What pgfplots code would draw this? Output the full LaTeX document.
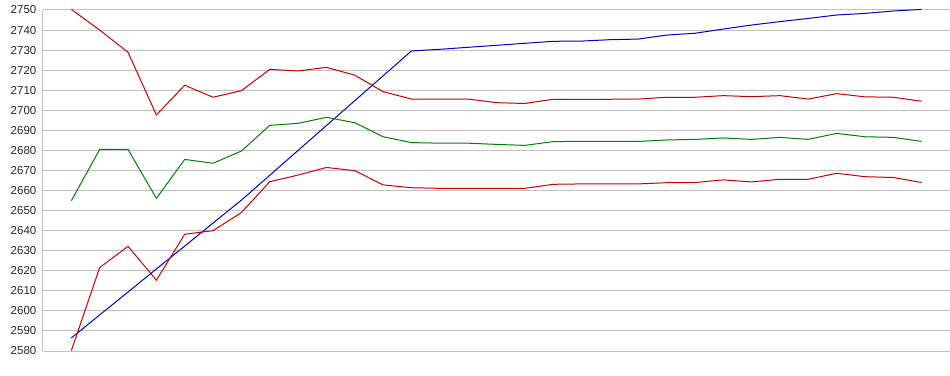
\documentclass[border=0pt]{standalone}
\usepackage{fontspec}
\setmainfont{Liberation Sans}
\usepackage{pgfplots}
\usepackage{pgfplotstable}
\pgfplotsset{compat=1.18}
\definecolor{gridgray}{RGB}{192,192,192}
\definecolor{cblue}{RGB}{0,0,200}
\definecolor{cred}{RGB}{200,0,0}
\definecolor{cgreen}{RGB}{0,128,0}
\pgfplotstableread{
k blue redU green redL
0 2586.5 2750.3 2654.9 2580.2
1 2598.0 2740.0 2680.5 2621.6
2 2609.4 2728.9 2680.5 2632.2
3 2620.9 2697.7 2656.1 2615.3
4 2632.3 2712.5 2675.5 2638.2
5 2643.8 2706.5 2673.6 2640.0
6 2655.2 2709.8 2679.7 2649.0
7 2667.6 2720.4 2692.5 2664.4
8 2680.0 2719.6 2693.5 2667.7
9 2692.4 2721.4 2696.5 2671.5
10 2704.8 2717.5 2693.8 2669.9
11 2717.2 2709.3 2686.8 2662.8
12 2729.6 2705.6 2683.9 2661.4
13 2730.4 2705.6 2683.6 2661.1
14 2731.4 2705.6 2683.6 2661.1
15 2732.4 2703.8 2683.0 2661.1
16 2733.4 2703.4 2682.5 2661.1
17 2734.4 2705.5 2684.4 2663.1
18 2734.5 2705.5 2684.5 2663.3
19 2735.2 2705.5 2684.5 2663.3
20 2735.5 2705.6 2684.5 2663.3
21 2737.5 2706.5 2685.2 2663.9
22 2738.4 2706.5 2685.5 2664.0
23 2740.5 2707.3 2686.2 2665.3
24 2742.5 2706.8 2685.5 2664.3
25 2744.2 2707.3 2686.5 2665.6
26 2745.8 2705.6 2685.5 2665.6
27 2747.5 2708.3 2688.5 2668.6
28 2748.3 2706.7 2686.8 2666.9
29 2749.5 2706.5 2686.5 2666.5
30 2750.3 2704.5 2684.5 2664.0
}\datatable
\begin{document}
\begin{tikzpicture}
\useasboundingbox (0,0) rectangle (950pt,375pt);
\begin{axis}[
  at={(43pt,24pt)}, anchor=south west,
  scale only axis, width=907pt, height=341pt,
  xmin=-1, xmax=31, ymin=2580, ymax=2750,
  clip=false,
  axis x line=none,
  axis y line=left,
  y axis line style={-, draw=gridgray, line width=1pt},
  ytick distance=10,
  xtick=\empty,
  ymajorgrids,
  grid style={draw=gridgray, line width=1pt},
  major tick length=0pt,
  /pgf/number format/assume math mode=true,
  /pgf/number format/1000 sep={},
  yticklabel style={font=\fontsize{11.5}{13}\selectfont, inner sep=0pt, xshift=-6.5pt, text=black!85},
]
\addplot[cblue, line width=1pt] table[x=k, y=blue] {\datatable};
\addplot[cred, line width=1pt] table[x=k, y=redU] {\datatable};
\addplot[cgreen, line width=1pt] table[x=k, y=green] {\datatable};
\addplot[cred, line width=1pt] table[x=k, y=redL] {\datatable};
\end{axis}
\end{tikzpicture}
\end{document}
